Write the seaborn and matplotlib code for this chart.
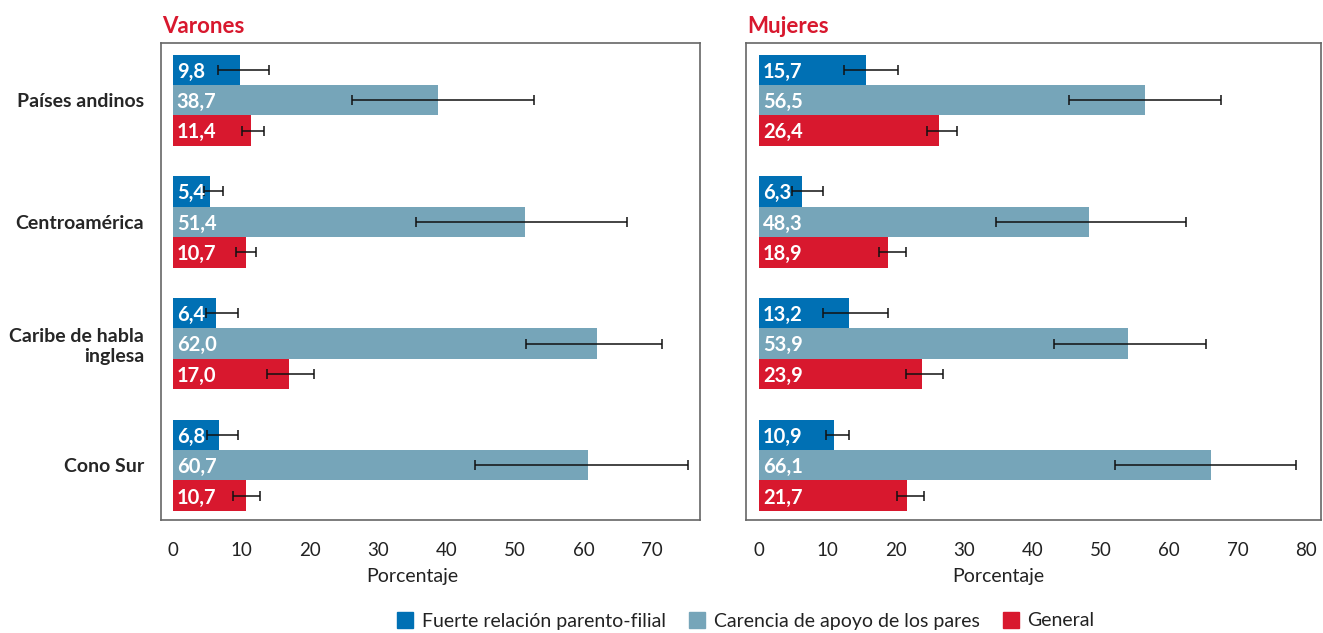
import pandas as pd
import seaborn as sns
import matplotlib.pyplot as plt
from matplotlib.lines import Line2D

regiones = ["Países andinos", "Centroamérica", "Caribe de habla\ninglesa", "Cono Sur"]
series = ["Fuerte relación parento-filial", "Carencia de apoyo de los pares", "General"]
colores = ["#0070b4", "#76a5b9", "#d8182e"]

# valores por serie (una lista por region)
varones_fuerte = [9.8, 5.4, 6.4, 6.8]
varones_carencia = [38.7, 51.4, 62.0, 60.7]
varones_general = [11.4, 10.7, 17.0, 10.7]
mujeres_fuerte = [15.7, 6.3, 13.2, 10.9]
mujeres_carencia = [56.5, 48.3, 53.9, 66.1]
mujeres_general = [26.4, 18.9, 23.9, 21.7]

# intervalos (inferior, superior)
varones_fuerte_ic = [(6.6, 14.0), (4.6, 7.4), (4.9, 9.5), (5.0, 9.6)]
varones_carencia_ic = [(26.2, 52.7), (35.6, 66.4), (51.6, 71.4), (44.1, 75.2)]
varones_general_ic = [(10.1, 13.3), (9.3, 12.2), (13.8, 20.7), (8.8, 12.7)]
mujeres_fuerte_ic = [(12.4, 20.4), (4.8, 9.4), (9.3, 18.8), (9.8, 13.2)]
mujeres_carencia_ic = [(45.4, 67.6), (34.7, 62.5), (43.2, 65.4), (52.0, 78.6)]
mujeres_general_ic = [(24.6, 29.0), (17.6, 21.5), (21.5, 26.9), (20.2, 24.1)]

paneles = [
    ("Varones", [varones_fuerte, varones_carencia, varones_general],
     [varones_fuerte_ic, varones_carencia_ic, varones_general_ic], (-1.7, 77.0), [0, 10, 20, 30, 40, 50, 60, 70]),
    ("Mujeres", [mujeres_fuerte, mujeres_carencia, mujeres_general],
     [mujeres_fuerte_ic, mujeres_carencia_ic, mujeres_general_ic], (-1.9, 82.2), [0, 10, 20, 30, 40, 50, 60, 70, 80]),
]

sns.set_style("white")
plt.rcParams['font.family'] = ['Lato', 'DejaVu Sans']

W, H = 1323, 633
fig = plt.figure(figsize=(W / 100, H / 100), dpi=100)
ax1 = fig.add_axes([161 / W, 1 - 520 / H, 539 / W, 477 / H])
ax2 = fig.add_axes([746 / W, 1 - 520 / H, 575 / W, 477 / H])

for ax, (titulo, valores, ics, xlim, xticks) in zip([ax1, ax2], paneles):
    filas = []
    for s, vals in zip(series, valores):
        for r, v in zip(regiones, vals):
            filas.append({"region": r, "serie": s, "valor": v})
    df = pd.DataFrame(filas)
    sns.barplot(data=df, y="region", x="valor", hue="serie", hue_order=series,
                order=regiones, palette=colores, saturation=1, width=0.75,
                orient="h", errorbar=None, legend=False, linewidth=0, ax=ax)

    for cont, vals, ic in zip(ax.containers, valores, ics):
        ys = [p.get_y() + p.get_height() / 2 for p in cont.patches]
        lo = [v - a for v, (a, b) in zip(vals, ic)]
        hi = [b - v for v, (a, b) in zip(vals, ic)]
        ax.errorbar(vals, ys, xerr=[lo, hi], fmt="none", ecolor="#111111",
                    elinewidth=1.1, capsize=3.5, capthick=1.1, zorder=5)
        for v, y in zip(vals, ys):
            ax.text(0.6, y + 0.015, f"{v:.1f}".replace(".", ","), color="white",
                    fontsize=14.5, fontweight="bold", va="center", ha="left", zorder=6)

    ax.set_xlim(*xlim)
    ax.set_ylim(3.45, -0.47)
    ax.set_xticks(xticks)
    ax.tick_params(axis="x", direction="out", length=8.5, width=1, color="#555555",
                   labelsize=13.5, labelcolor="#222222", pad=7)
    ax.tick_params(axis="y", length=0, labelsize=14, pad=12)
    for lab in ax.get_yticklabels():
        lab.set_fontweight("bold")
    ax.set_xlabel("Porcentaje", fontsize=14, color="#222222")
    ax.xaxis.set_label_coords((35 - xlim[0]) / (xlim[1] - xlim[0]), -0.101)
    ax.set_ylabel("")
    for sp in ax.spines.values():
        sp.set_visible(True)
        sp.set_color("#666666")
        sp.set_linewidth(1.2)
    ax.set_title(titulo, loc="left", color="#d8182e", fontsize=16, fontweight="bold", pad=7, x=0.002)

ax2.set_yticklabels([])

handles = [Line2D([], [], marker="s", linestyle="", markersize=11, color=c) for c in colores]
fig.legend(handles, series, loc="center", bbox_to_anchor=(745 / W, 1 - 621 / H), ncol=3,
           frameon=False, fontsize=14, handletextpad=0.35, columnspacing=1.1, handlelength=1.0,
           labelcolor="#222222")

fig.savefig("out.png", dpi=100)
